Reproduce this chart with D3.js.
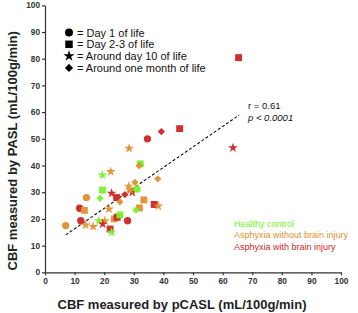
<!DOCTYPE html>
<html>
<head>
<meta charset="utf-8">
<script src="https://cdn.jsdelivr.net/npm/d3@7"></script>
<style>
  body { margin: 0; background: #fff; }
  svg { font-family: "Liberation Sans", Arial, sans-serif; }
  .axis text { font-size: 8.3px; font-weight: bold; fill: #333; }
  .axis path, .axis line { stroke: #333; stroke-width: 1.2; }
</style>
</head>
<body>
<div id="chart"></div>
<script>
// data
const pcasl = [7.0, 11.7, 13.3, 12.1, 14.0, 13.7, 16.3, 18.2, 20.2, 19.5, 22.0, 22.5, 23.4, 24.4, 25.3,
               27.9, 21.6, 18.6, 19.4, 22.5, 24.2, 25.3, 27.0, 28.3, 29.5, 28.8, 31.1, 30.4, 33.4, 36.9,
               38.3, 31.9, 30.7, 19.4, 22.2, 32.2, 31.8, 38.1, 28.4, 34.6, 39.3, 45.5, 65.4, 63.5]
const pasl  = [17.5, 24.0, 23.2, 19.3, 28.0, 17.7, 17.1, 19.3, 19.3, 18.1, 16.2, 15.0, 20.0, 20.6, 21.5,
               19.3, 23.7, 27.7, 30.8, 29.6, 28.0, 26.4, 29.1, 32.2, 30.0, 30.8, 31.2, 33.7, 27.1, 25.4,
               24.8, 24.1, 23.3, 36.4, 37.7, 40.6, 39.9, 35.0, 46.4, 50.0, 52.7, 53.8, 80.4, 46.6]
// h = healthy, a = asphyxia w/o injury, i = asphyxia with injury
const group = ['a','i','a','i','a','a','a','h','a','i','i','h','a','i','h',
               'i','a','h','h','i','i','a','i','a','i','a','h','a','a','i',
               'a','a','h','h','a','h','a','a','a','i','i','i','i','i']
// 1 = day 1, 2 = day 2-3, 3 = around day 10, 4 = around one month
const age   = [1,1,2,1,1,3,3,3,3,3,2,3,2,2,2,
               1,3,4,2,3,2,4,4,3,3,3,1,4,2,2,
               3,2,4,3,3,2,4,4,3,1,4,2,2,3]

const ageLabels = ['= Day 1 of life', '= Day 2-3 of life', '= Around day 10 of life', '= Around one month of life']
const groupLabels = ['Healthy control', 'Asphyxia without brain injury', 'Asphyxia with brain injury']
const xTicks = [0, 10, 20, 30, 40, 50, 60, 70, 80, 90, 100]
const yTicks = [0, 10, 20, 30, 40, 50, 60, 70, 80, 90, 100]
const fitLine = [[7, 14.0], [65.6, 58.9]]

const colors = {h: '#77f22a', a: '#e0902f', i: '#cc2525'}
const groupKeys = ['h', 'a', 'i']

const shapes = {1: d3.symbolCircle, 2: d3.symbolSquare, 3: d3.symbolStar, 4: d3.symbolDiamond2 || d3.symbolDiamond}
const sizes = {1: 42, 2: 48, 3: 30, 4: 34}

const width = 358, height = 313

const svg = d3.select('#chart').append('svg')
    .attr('width', width)
    .attr('height', height)

const x = d3.scaleLinear().domain([0, 100]).range([45, 341])
const y = d3.scaleLinear().domain([0, 100]).range([272.3, 5.3])

// axes
svg.append('g')
    .attr('class', 'axis')
    .attr('transform', `translate(0,${y(0)})`)
    .call(d3.axisBottom(x).tickValues(xTicks).tickSize(3).tickSizeOuter(0).tickPadding(3))

svg.append('g')
    .attr('class', 'axis')
    .attr('transform', `translate(${x(0)},0)`)
    .call(d3.axisLeft(y).tickValues(yTicks).tickSize(3).tickSizeOuter(0).tickPadding(2))

// axis titles
svg.append('text')
    .attr('x', 182).attr('y', 309)
    .attr('text-anchor', 'middle')
    .style('font-size', '13px').style('font-weight', 'bold').style('fill', '#222')
    .text('CBF measured by pCASL (mL/100g/min)')

svg.append('text')
    .attr('transform', `translate(17,${(y(0) + y(100)) / 2 + 12}) rotate(-90)`)
    .attr('text-anchor', 'middle')
    .style('font-size', '13px').style('font-weight', 'bold').style('fill', '#222')
    .text('CBF measured by PASL (mL/100g/min)')

// regression line
svg.append('line')
    .attr('x1', x(fitLine[0][0])).attr('y1', y(fitLine[0][1]))
    .attr('x2', x(fitLine[1][0])).attr('y2', y(fitLine[1][1]))
    .attr('stroke', '#111')
    .attr('stroke-width', 1.1)
    .attr('stroke-dasharray', '3,2')

// points
const pts = pcasl.map((d, i) => ({x: d, y: pasl[i], g: group[i], a: age[i]}))

svg.append('g').selectAll('path')
    .data(pts)
    .enter()
    .append('path')
    .attr('transform', d => `translate(${x(d.x)},${y(d.y)})`)
    .attr('d', d => d3.symbol().type(shapes[d.a]).size(sizes[d.a])())
    .attr('fill', d => colors[d.g])
    .attr('opacity', 0.95)

// shape legend
const legend = svg.append('g')
ageLabels.forEach((t, i) => {
    const yy = 32.5 + i * 11.8
    legend.append('path')
        .attr('transform', `translate(69,${yy})`)
        .attr('d', d3.symbol().type(shapes[i + 1]).size(sizes[i + 1] + 8)())
        .attr('fill', '#000')
    legend.append('text')
        .attr('x', 77).attr('y', yy + 4)
        .style('font-size', '11px').style('fill', '#111')
        .text(t)
})

// colour legend
groupLabels.forEach((t, i) => {
    svg.append('text')
        .attr('x', 234).attr('y', 226.5 + i * 11.7)
        .style('font-size', '9px')
        .style('fill', colors[groupKeys[i]])
        .text(t)
})

// stats annotation
svg.append('text')
    .attr('x', 248).attr('y', 109)
    .style('font-size', '9.5px').style('fill', '#111')
    .text('r = 0.61')

const pText = svg.append('text')
    .attr('x', 248).attr('y', 120.5)
    .style('font-size', '9.5px').style('fill', '#111').style('font-style', 'italic')
pText.append('tspan').text('p')
pText.append('tspan').text(' < 0.0001')
</script>
</body>
</html>
